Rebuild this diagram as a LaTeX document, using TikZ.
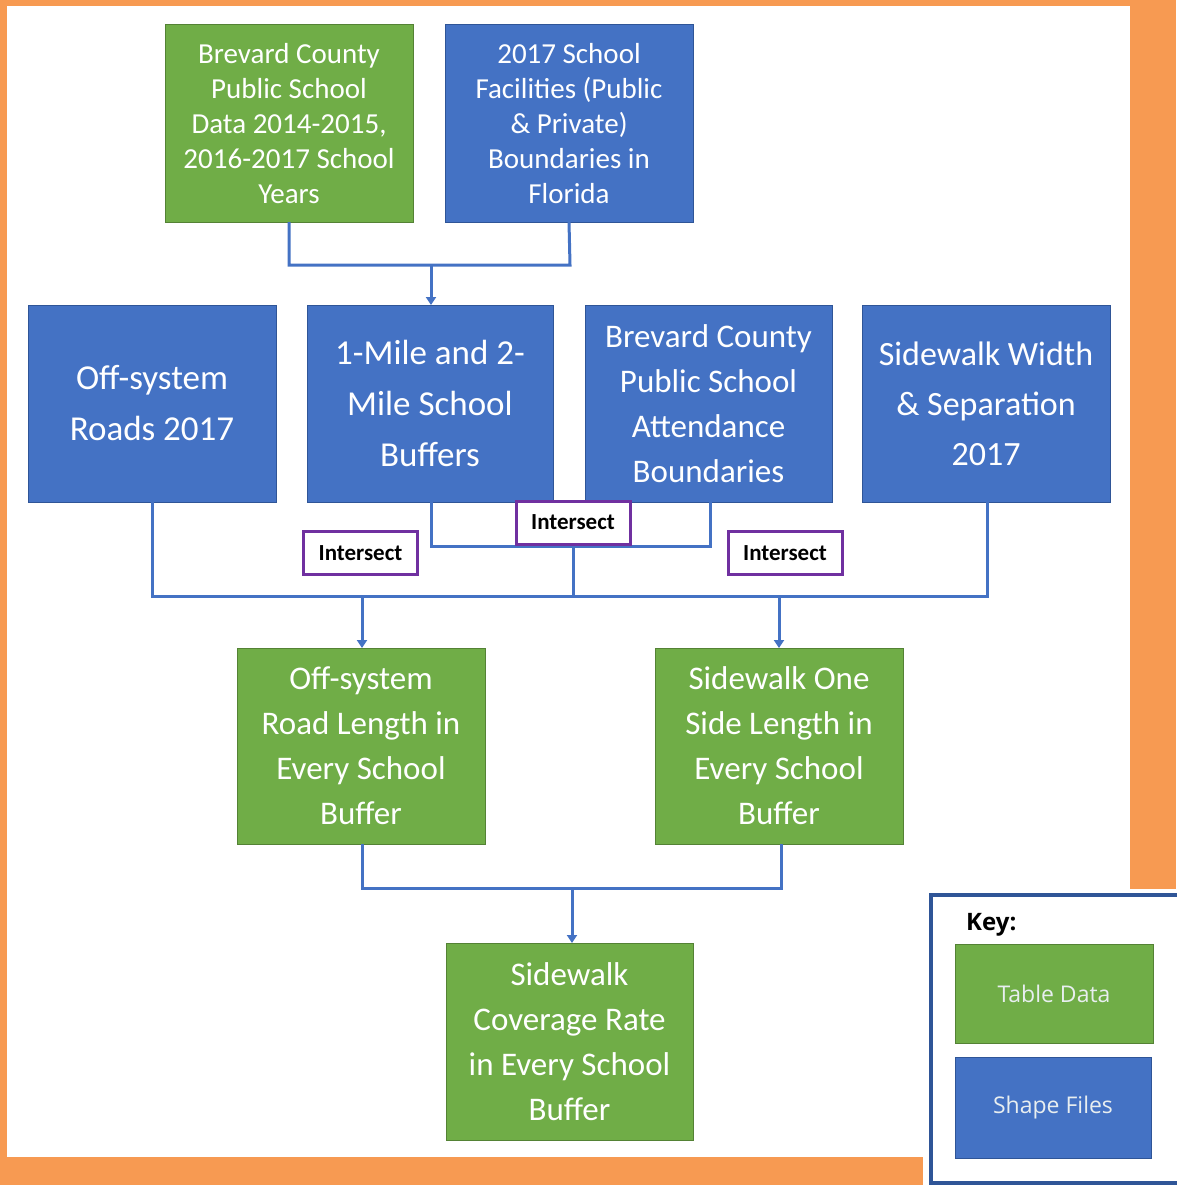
\documentclass[tikz,border=0pt]{standalone}
\usepackage{fontspec}
\setmainfont{Carlito}
\newfontfamily\keyfont{Open Sans}
\usetikzlibrary{arrows.meta}
\definecolor{orangebg}{HTML}{F79A52}
\definecolor{gfill}{HTML}{70AD47}
\definecolor{gline}{HTML}{548235}
\definecolor{bfill}{HTML}{4472C4}
\definecolor{bline}{HTML}{2F5597}
\definecolor{conn}{HTML}{4472C4}
\definecolor{purp}{HTML}{7030A0}
\definecolor{keyline}{HTML}{2F5597}
\definecolor{keytext}{HTML}{E8EEF0}
\tikzset{
  box/.style={rectangle, inner sep=0pt, outer sep=0pt, align=center, text=white,
    minimum width=248pt, minimum height=197pt, line width=1pt},
  gbox/.style={box, fill=gfill, draw=gline},
  bbox/.style={box, fill=bfill, draw=bline},
  fA/.style={font=\fontsize{29}{35}\selectfont},
  fB/.style={font=\fontsize{35}{51}\selectfont},
  fC/.style={font=\fontsize{33}{45}\selectfont},
  isect/.style={rectangle, draw=purp, fill=white, line width=3pt, inner sep=0pt,
    minimum width=114pt, minimum height=43pt, font=\bfseries\fontsize{23}{27}\selectfont},
  link/.style={draw=conn, line width=3pt},
  arr/.style={link, -{Triangle[width=10pt,length=8pt]}},
  keybox/.style={rectangle, inner sep=0pt, outer sep=0pt, text=keytext, line width=1pt,
    font=\keyfont\fontsize{23}{27}\selectfont},
}
\begin{document}
\begin{tikzpicture}[x=1pt,y=-1pt]
\useasboundingbox (0,0) rectangle (1176,1185);
\fill[orangebg] (0,0) rectangle (1176,1185);
\fill[white] (7,6) rectangle (1130,1157);

% top row
\node[gbox,fA,yshift=0pt] (data) at (289,123.5) {Brevard County\\Public School\\Data 2014-2015,\\2016-2017 School\\Years};
\node[bbox,fA] (facil) at (569,123.5) {2017 School\\Facilities (Public\\\& Private)\\Boundaries in\\Florida};
% second row
\node[bbox,fB] (offsys) at (152,403.5) {Off-system\\Roads 2017};
\node[bbox,fB,minimum width=246pt] (buff) at (430,403.5) {1-Mile and 2-\\Mile School\\Buffers};
\node[bbox,fC,minimum width=247pt] (attend) at (708.5,403.5) {Brevard County\\Public School\\Attendance\\Boundaries};
\node[bbox,font=\fontsize{34}{50}\selectfont] (sww) at (986,403.5) {Sidewalk Width\\\& Separation\\2017};
% third row
\node[gbox,fC,minimum height=196pt] (roadlen) at (361,746) {Off-system\\Road Length in\\Every School\\Buffer};
\node[gbox,fC,minimum height=196pt] (swlen) at (779,746) {Sidewalk One\\Side Length in\\Every School\\Buffer};
% bottom
\node[gbox,fC,minimum width=247pt] (cov) at (569.5,1041.5) {Sidewalk\\Coverage Rate\\in Every School\\Buffer};

% connectors
\coordinate (m1) at (431,265);
\coordinate (m2) at (573,546);
\coordinate (m3) at (573,596);
\coordinate (m4) at (572,888);
\draw[link] (data.south) -- (289,265) -- (570,265) -- (facil.south);
\draw[arr] (m1) -- (buff.north -| m1);
\draw[link] (buff.south -| 431,0) -- (431,546) -- (710,546) -- (attend.south -| 710,0);
\draw[link] (m2) -- (m3);
\draw[link] (offsys.south) -- (152,596) -- (987,596) -- (sww.south -| 987,0);
\draw[arr] (362,596) -- (roadlen.north -| 362,0);
\draw[arr] (779,596) -- (swlen.north);
\draw[link] (roadlen.south -| 362,0) -- (362,888) -- (781,888) -- (swlen.south -| 781,0);
\draw[arr] (m4) -- (cov.north -| m4);

% intersect labels
\node[isect] (i1) at (360.5,553) {Intersect};
\node[isect] (i2) at (573,522.5) {Intersect};
\node[isect] (i3) at (785,553) {Intersect};

% key
\fill[white] (923,889) rectangle (1176,1185);
\draw[keyline, line width=4pt] (930.5,894.5) rectangle (1190,1182.5);
\node[anchor=west, font=\keyfont\bfseries\fontsize{24}{28}\selectfont, inner sep=0pt] (keylab) at (966,925) {Key:};
\node[keybox, fill=gfill, draw=gline, minimum width=198pt, minimum height=99pt] (ktab) at (1054,993.5) {Table Data};
\node[keybox, fill=bfill, draw=bline, minimum width=196pt, minimum height=101pt] (kshp) at (1053,1107.5) {Shape Files};
\end{tikzpicture}
\end{document}
